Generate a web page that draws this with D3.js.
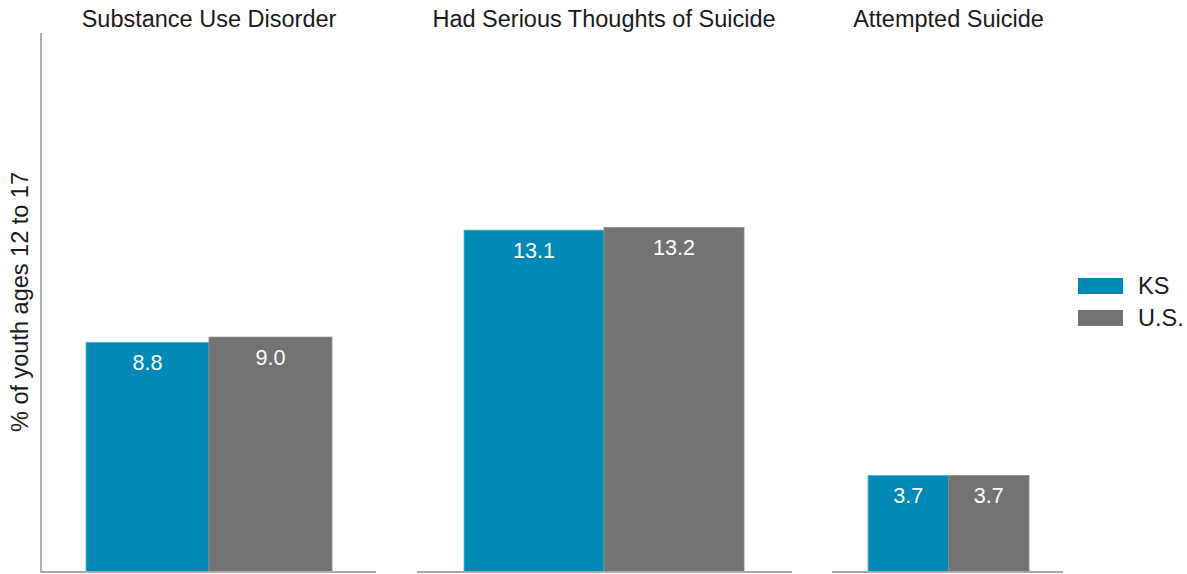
<!DOCTYPE html>
<html>
<head>
<meta charset="utf-8">
<script src="https://cdn.jsdelivr.net/npm/d3@7"></script>
<style>
  html, body { margin: 0; padding: 0; background: #fff; }
  svg { display: block; font-family: "Liberation Sans", Arial, sans-serif; }
</style>
</head>
<body>
<svg id="chart" width="1187" height="574"></svg>
<script>
const categories = ["Substance Use Disorder", "Had Serious Thoughts of Suicide", "Attempted Suicide"];
const seriesNames = ["KS", "U.S."];
const ksValues = [8.8, 13.1, 3.7];
const usValues = [9.0, 13.2, 3.7];
const valueLabels = [["8.8", "9.0"], ["13.1", "13.2"], ["3.7", "3.7"]];
const yAxisTitle = "% of youth ages 12 to 17";

const colors = { "KS": "#0089b4", "U.S.": "#737373" };
const fontSize = 23.5;
const svg = d3.select("#chart");

const baseY = 572;
const y = d3.scaleLinear().domain([0, 20.65]).range([baseY, 33]);

// panel layout: axis-line extent and bar-group extent
const panels = [
  { line: [41, 376], bars: [86, 332] },
  { line: [417, 792], bars: [464, 744] },
  { line: [832, 1063], bars: [868, 1029] }
];

categories.forEach((cat, i) => {
  const p = panels[i];
  const x = d3.scaleBand().domain(seriesNames).range(p.bars).padding(0);
  const vals = [ksValues[i], usValues[i]];
  const g = svg.append("g");

  g.selectAll("rect").data(seriesNames).join("rect")
    .attr("x", d => x(d))
    .attr("y", (d, j) => y(vals[j]))
    .attr("width", x.bandwidth())
    .attr("height", (d, j) => baseY - y(vals[j]))
    .attr("fill", d => colors[d])
    .attr("stroke", d => d === "KS" ? "#5fb8d6" : "#8a8a8a")
    .attr("stroke-width", 0.8);

  g.selectAll("text.val").data(seriesNames).join("text")
    .attr("class", "val")
    .attr("x", d => x(d) + x.bandwidth() / 2)
    .attr("y", (d, j) => y(vals[j]) + 28)
    .attr("text-anchor", "middle")
    .attr("fill", "#ffffff")
    .style("font-size", fontSize * 0.92 + "px")
    .text((d, j) => valueLabels[i][j]);

  // baseline
  g.append("line")
    .attr("x1", p.line[0]).attr("x2", p.line[1])
    .attr("y1", baseY).attr("y2", baseY)
    .attr("stroke", "#a9a9a9").attr("stroke-width", 2);

  // title
  svg.append("text")
    .attr("x", (p.bars[0] + p.bars[1]) / 2)
    .attr("y", 27)
    .attr("text-anchor", "middle")
    .attr("fill", "#1a1a1a")
    .style("font-size", fontSize + "px")
    .text(cat);
});

// y axis line (first panel only)
svg.append("line")
  .attr("x1", 41).attr("x2", 41)
  .attr("y1", y(20.65)).attr("y2", baseY + 1)
  .attr("stroke", "#b0b0b0").attr("stroke-width", 2);

// y axis title
svg.append("text")
  .attr("transform", "translate(28,302) rotate(-90)")
  .attr("text-anchor", "middle")
  .attr("fill", "#1a1a1a")
  .style("font-size", fontSize + "px")
  .text(yAxisTitle);

// legend
const legend = svg.append("g");
seriesNames.forEach((s, i) => {
  legend.append("rect")
    .attr("x", 1078).attr("y", 278 + i * 32)
    .attr("width", 45).attr("height", 16)
    .attr("fill", colors[s]);
  legend.append("text")
    .attr("x", 1138).attr("y", 294 + i * 32)
    .attr("fill", "#1a1a1a")
    .style("font-size", fontSize + "px")
    .text(s);
});
</script>
</body>
</html>
